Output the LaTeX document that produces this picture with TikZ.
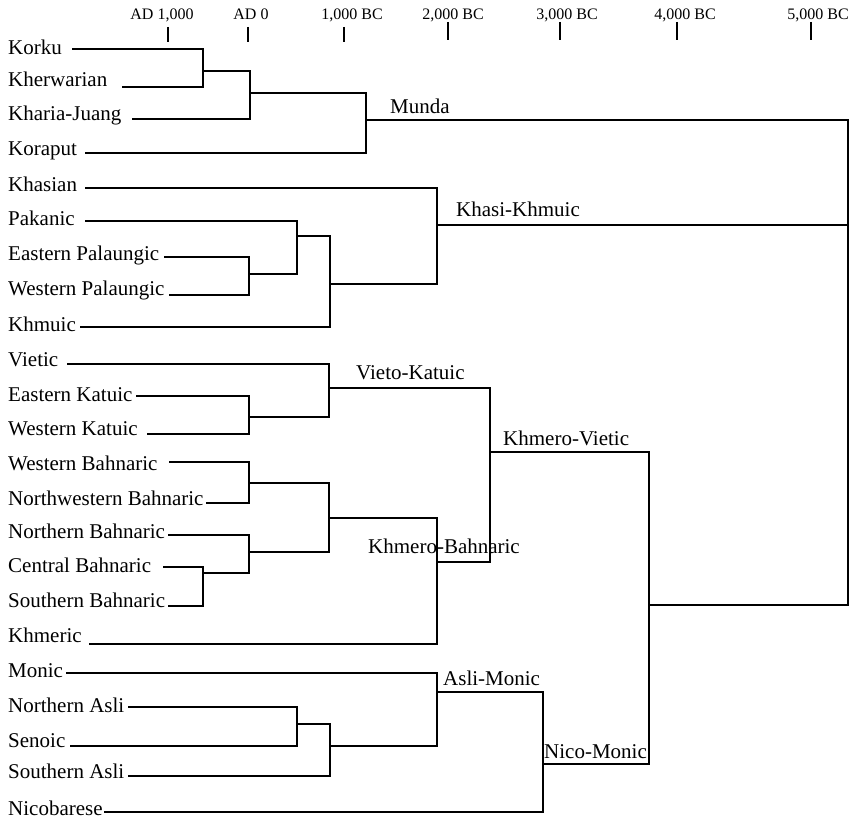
\documentclass[tikz,border=0pt]{standalone}
\usepackage{fontspec}
\setmainfont{Liberation Serif}
\begin{document}
\begin{tikzpicture}[x=1pt,y=-1pt,
  br/.style={line width=1.8pt},
  tk/.style={line width=1.8pt},
  leaf/.style={font=\fontsize{21}{24}\selectfont, anchor=base west, inner sep=0pt},
  cladelabel/.style={font=\fontsize{21}{24}\selectfont, anchor=base west, inner sep=0pt},
  axlabel/.style={font=\fontsize{16}{18}\selectfont, anchor=base, inner sep=0pt}]
\useasboundingbox (0,0) rectangle (854,818);
\newcommand\mkleaf[5]{\node[leaf] (#1) at (8,#3) {#2};\coordinate (#1-s) at (#4,#5);}
\newcommand\mkjoin[3]{\draw[br] (#2) -- (#2 -| #1) -- (#3 -| #1) -- (#3);}
% axis
\node[axlabel] (ax1) at (162,20) {AD 1,000};
\node[axlabel] (ax2) at (251,20) {AD 0};
\node[axlabel] (ax3) at (352,20) {1,000 BC};
\node[axlabel] (ax4) at (453,20) {2,000 BC};
\node[axlabel] (ax5) at (567,20) {3,000 BC};
\node[axlabel] (ax6) at (685,20) {4,000 BC};
\node[axlabel] (ax7) at (818,20) {5,000 BC};
\draw[tk] (168,27) -- (168,42);
\draw[tk] (248,27) -- (248,42);
\draw[tk] (344,27) -- (344,42);
\draw[tk] (448,22) -- (448,40);
\draw[tk] (560,22) -- (560,40);
\draw[tk] (677,22) -- (677,40);
\draw[tk] (811,22) -- (811,40);
% leaves
\mkleaf{korku}{Korku}{55}{72}{49}
\mkleaf{kherwarian}{Kherwarian}{87}{122}{87}
\mkleaf{khariajuang}{Kharia-Juang}{121}{132}{119}
\mkleaf{koraput}{Koraput}{156}{85}{153}
\mkleaf{khasian}{Khasian}{192}{85}{188}
\mkleaf{pakanic}{Pakanic}{226}{85}{221}
\mkleaf{epal}{Eastern Palaungic}{261}{164}{257}
\mkleaf{wpal}{Western Palaungic}{296}{169}{295}
\mkleaf{khmuic}{Khmuic}{331}{80}{327}
\mkleaf{vietic}{Vietic}{366}{67}{364}
\mkleaf{ekat}{Eastern Katuic}{401}{136}{396}
\mkleaf{wkat}{Western Katuic}{435}{147}{434}
\mkleaf{wbah}{Western Bahnaric}{470}{169}{462}
\mkleaf{nwbah}{Northwestern Bahnaric}{505}{206}{503}
\mkleaf{nbah}{Northern Bahnaric}{538}{168}{535}
\mkleaf{cbah}{Central Bahnaric}{572}{163}{567}
\mkleaf{sbah}{Southern Bahnaric}{607}{168}{606}
\mkleaf{khmeric}{Khmeric}{642}{89}{644}
\mkleaf{monic}{Monic}{677}{66}{673}
\mkleaf{nasli}{Northern Asli}{712}{128}{707}
\mkleaf{senoic}{Senoic}{747}{70}{746}
\mkleaf{sasli}{Southern Asli}{778}{128}{776}
\mkleaf{nicobarese}{Nicobarese}{815}{104}{812}
% internal points
\coordinate (A) at (203,71);
\coordinate (B) at (250,93);
\coordinate (munda) at (366,120);
\coordinate (pal) at (249,274);
\coordinate (P2) at (297,236);
\coordinate (P3) at (330,284);
\coordinate (kk) at (437,225);
\coordinate (kat) at (249,417);
\coordinate (vk) at (329,388);
\coordinate (wnb) at (249,483);
\coordinate (csb) at (203,573);
\coordinate (ncsb) at (249,552);
\coordinate (bah) at (329,518);
\coordinate (kb) at (437,562);
\coordinate (kv) at (490,452);
\coordinate (nas) at (297,724);
\coordinate (asli) at (330,746);
\coordinate (am) at (437,692);
\coordinate (nm) at (543,764);
\coordinate (kvnm) at (649,605);
\coordinate (root) at (848,120);
% joins
\mkjoin{A}{korku-s}{kherwarian-s}
\mkjoin{B}{A}{khariajuang-s}
\mkjoin{munda}{B}{koraput-s}
\mkjoin{pal}{epal-s}{wpal-s}
\mkjoin{P2}{pakanic-s}{pal}
\mkjoin{P3}{P2}{khmuic-s}
\mkjoin{kk}{khasian-s}{P3}
\mkjoin{kat}{ekat-s}{wkat-s}
\mkjoin{vk}{vietic-s}{kat}
\mkjoin{wnb}{wbah-s}{nwbah-s}
\mkjoin{csb}{cbah-s}{sbah-s}
\mkjoin{ncsb}{nbah-s}{csb}
\mkjoin{bah}{wnb}{ncsb}
\mkjoin{kb}{bah}{khmeric-s}
\mkjoin{kv}{vk}{kb}
\mkjoin{nas}{nasli-s}{senoic-s}
\mkjoin{asli}{nas}{sasli-s}
\mkjoin{am}{monic-s}{asli}
\mkjoin{nm}{am}{nicobarese-s}
\mkjoin{kvnm}{kv}{nm}
\mkjoin{root}{munda}{kvnm}
\draw[br] (kk) -- (kk -| root);
% clade labels
\node[cladelabel] (lmunda) at (390,114) {Munda};
\node[cladelabel] (lkk) at (456,217) {Khasi-Khmuic};
\node[cladelabel] (lvk) at (356,379) {Vieto-Katuic};
\node[cladelabel] (lkv) at (503,445) {Khmero-Vietic};
\node[cladelabel] (lkb) at (368,553) {Khmero-Bahnaric};
\node[cladelabel] (lam) at (443,685) {Asli-Monic};
\node[cladelabel] (lnm) at (544,758) {Nico-Monic};
\end{tikzpicture}
\end{document}
